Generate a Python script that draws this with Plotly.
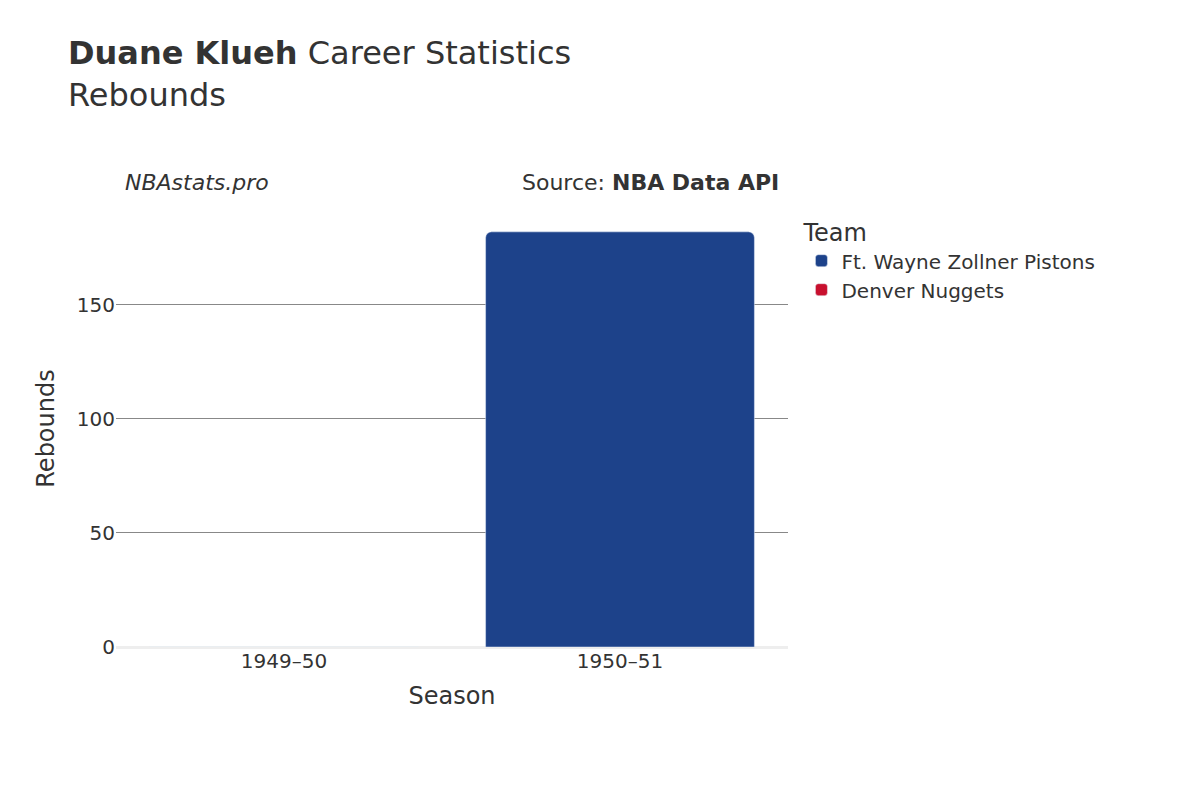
import plotly.graph_objects as go

seasons = ["1949–50", "1950–51"]
teams = ["Ft. Wayne Zollner Pistons", "Denver Nuggets"]
colors = ["#1D428A", "#C8102E"]
pistons = [None, 182]
nuggets = [0, None]

fig = go.Figure()
fig.add_bar(x=seasons, y=pistons, name=teams[0], marker_color=colors[0])
fig.add_bar(x=seasons, y=nuggets, name=teams[1], marker_color=colors[1])

fig.update_layout(
    width=1200, height=800, barmode="relative", barcornerradius=6,
    font=dict(family="DejaVu Sans", color="#333333", size=20),
    plot_bgcolor="white", paper_bgcolor="white",
    margin=dict(l=108, r=420, t=202, b=161),
    title=dict(text="<b>Duane Klueh</b> Career Statistics<br>Rebounds", x=0.05, y=0.93, xanchor="left", font=dict(size=32)),
    legend=dict(title=dict(text="Team"), x=1.02, y=1.0, yanchor="top", font=dict(size=20)),
    xaxis=dict(title=dict(text="Season", font=dict(size=24)), showgrid=False, ticks=""),
    yaxis=dict(title=dict(text="Rebounds", font=dict(size=24)), gridcolor="#888888", zeroline=True,
               zerolinecolor="#eeeeee", zerolinewidth=3, tickvals=[0, 50, 100, 150]),
    annotations=[
        dict(text="<i>NBAstats.pro</i>", xref="paper", yref="paper", x=0.01, y=1.03, xanchor="left", yanchor="bottom", showarrow=False, font=dict(size=22)),
        dict(text="Source: <b>NBA Data API</b>", xref="paper", yref="paper", x=0.99, y=1.03, xanchor="right", yanchor="bottom", showarrow=False, font=dict(size=22)),
    ],
)
fig.write_html("out.html")
